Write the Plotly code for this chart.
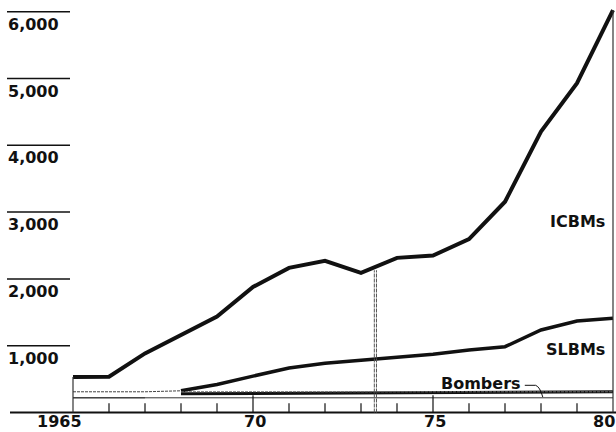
import plotly.graph_objects as go

years = list(range(1965, 1981))
icbm_total = [530, 535, 885, 1160, 1435, 1880, 2165, 2270, 2090, 2315, 2350, 2595, 3155, 4205, 4930, 6025]
slbm_total = [310, 310, 310, 325, 420, 545, 665, 737, 780, 825, 872, 935, 985, 1235, 1370, 1410]
bombers = [220, 220, 220, 280, 282, 285, 287, 289, 291, 293, 295, 298, 301, 304, 307, 310]
box_inner = 220
marker_year = 1973.4
marker_top = 2130
y_ticks = [1000, 2000, 3000, 4000, 5000, 6000]
y_tick_labels = ["1,000", "2,000", "3,000", "4,000", "5,000", "6,000"]
x_label_years = [1965, 1970, 1975, 1980]
x_label_text = ["1965", "70", "75", "80"]
x_label_shift = [-14, 2, 2, -9]

W, H = 616, 432
X0 = 1965 - 73 / 36.0
X1 = X0 + W / 36.0
Y0 = -(H - 412.5) / 66.8 * 1000
Y1 = Y0 + H / 66.8 * 1000

FONT = "DejaVu Sans"
INK = "#111111"
TXT = dict(family=FONT, size=16, color=INK, weight="bold")

fig = go.Figure()

# thin early segments
fig.add_trace(go.Scatter(x=years[:4], y=slbm_total[:4], mode="lines",
                         line=dict(color="#444", width=1, dash="3px,1px"), hoverinfo="skip"))
fig.add_trace(go.Scatter(x=years[:3], y=bombers[:3], mode="lines",
                         line=dict(color="#333", width=1), hoverinfo="skip"))
# thick lines
fig.add_trace(go.Scatter(x=years[3:], y=bombers[3:], mode="lines",
                         line=dict(color=INK, width=3), hoverinfo="skip"))
fig.add_trace(go.Scatter(x=years[3:], y=slbm_total[3:], mode="lines",
                         line=dict(color=INK, width=3.5), hoverinfo="skip"))
fig.add_trace(go.Scatter(x=years, y=icbm_total, mode="lines",
                         line=dict(color=INK, width=4), hoverinfo="skip"))

shapes = []
# baseline
shapes.append(dict(type="line", xref="paper", yref="y", x0=10 / W, x1=1, y0=0, y1=0,
                   line=dict(color=INK, width=2)))
# y tick lines
for v in y_ticks:
    shapes.append(dict(type="line", xref="paper", yref="y", x0=7 / W, x1=70 / W, y0=v, y1=v,
                       line=dict(color=INK, width=1.5)))
# box inner line
shapes.append(dict(type="line", xref="x", yref="y", x0=years[0], x1=years[-1], y0=box_inner, y1=box_inner,
                   line=dict(color="#333", width=1)))
# box top dashed line
shapes.append(dict(type="line", xref="x", yref="y", x0=years[3], x1=years[-1], y0=slbm_total[0], y1=slbm_total[0],
                   line=dict(color="#666", width=1, dash="3px,1px")))
# verticals at ends
shapes.append(dict(type="line", xref="x", yref="y", x0=years[0], x1=years[0], y0=0, y1=icbm_total[0],
                   line=dict(color="#333", width=1.2)))
shapes.append(dict(type="line", xref="x", yref="y", x0=years[-1], x1=years[-1], y0=0, y1=icbm_total[-1],
                   line=dict(color="#333", width=1.2)))
# double dashed marker line
for dx in (-0.03, 0.03):
    shapes.append(dict(type="line", xref="x", yref="y", x0=marker_year + dx, x1=marker_year + dx,
                       y0=0, y1=marker_top, line=dict(color="#555", width=1, dash="4px,1px")))
# year ticks
for yr in years[1:-1]:
    top = 260 if yr % 5 == 0 else 140
    shapes.append(dict(type="line", xref="x", yref="y", x0=yr, x1=yr, y0=0, y1=top,
                       line=dict(color=INK, width=1.2)))
# Bombers leader
ly = 427
shapes.append(dict(type="path", xref="x", yref="y",
                   path=f"M 1977.55,{ly - 20} L 1977.85,{ly - 20} Q 1977.97,{ly - 40} 1978.05,{230}",
                   line=dict(color=INK, width=1)))

annotations = []
for v, t in zip(y_ticks, y_tick_labels):
    annotations.append(dict(xref="paper", yref="y", x=6 / W, y=v, xanchor="left", yanchor="top",
                            text=t, showarrow=False, yshift=-1, font=TXT))
for yr, t, s in zip(x_label_years, x_label_text, x_label_shift):
    annotations.append(dict(xref="x", yref="paper", x=yr, y=0, xanchor="center", yanchor="bottom",
                            text=t, showarrow=False, xshift=s, borderpad=0, font=TXT))
annotations.append(dict(xref="x", yref="y", x=years[-1], y=2852, xanchor="right", yanchor="middle",
                        text="ICBMs", showarrow=False, xshift=-6, font=TXT))
annotations.append(dict(xref="x", yref="y", x=years[-1], y=936, xanchor="right", yanchor="middle",
                        text="SLBMs", showarrow=False, xshift=-6, font=TXT))
annotations.append(dict(xref="x", yref="y", x=1976.33, y=ly, xanchor="center", yanchor="middle",
                        text="Bombers", showarrow=False, font=TXT))

fig.update_layout(
    width=W, height=H,
    margin=dict(l=0, r=0, t=0, b=0),
    paper_bgcolor="white", plot_bgcolor="white",
    showlegend=False,
    xaxis=dict(range=[X0, X1], visible=False, fixedrange=True),
    yaxis=dict(range=[Y0, Y1], visible=False, fixedrange=True),
    shapes=shapes, annotations=annotations,
)

fig.write_html("out.html", config={"displayModeBar": False},
               post_script="document.body.style.margin='0';document.body.style.overflow='hidden';")
